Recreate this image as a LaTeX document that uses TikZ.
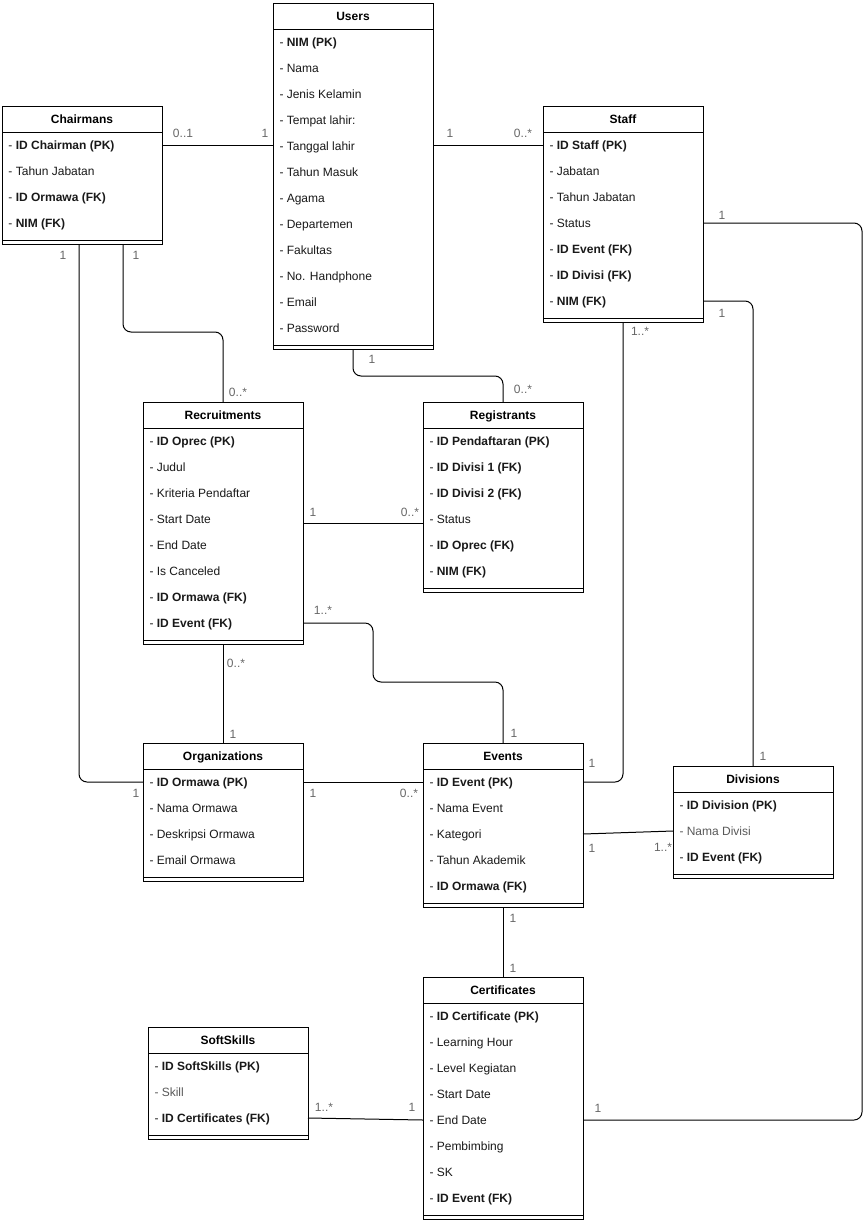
\documentclass[tikz,border=0pt]{standalone}
\usepackage{fontspec}
\setmainfont{Liberation Sans}
\usetikzlibrary{calc}

% one table of the diagram: name, x, y (from top), title, rows, attributes
\newcommand\erdtable[6]{%
  \node[tablebox, minimum height={34pt+26pt*#5}] (#1) at (#2,-#3) {};
  \node[tablehead] (#1-head) at ([yshift=-13pt]#1.north) {#4};
  \draw ([yshift=-26pt]#1.north west) -- ([yshift=-26pt]#1.north east);
  \draw ([yshift=4pt]#1.south west) -- ([yshift=4pt]#1.south east);
  \foreach \attr [count=\n] in {#6}
    \node[attrib] (#1-\n) at ([xshift=6pt, yshift=-13pt-26pt*\n]#1.north west) {\attr};
}

\begin{document}
\begin{tikzpicture}[x=1pt, y=1pt, line width=1pt, font=\fontsize{12}{14}\selectfont,
    tablebox/.style={draw, fill=white, minimum width=160pt, anchor=north west, inner sep=0pt, outer sep=0pt},
    tablehead/.style={font=\fontsize{12}{14}\selectfont\bfseries, inner sep=0pt, text height=8.6pt, text depth=0pt},
    attrib/.style={anchor=west, inner sep=0pt, text height=8.6pt, text depth=0pt, text=black!90},
    lbl/.style={inner sep=0pt, text height=8.6pt, text depth=0pt, text=black!60},
    link/.style={rounded corners=8pt}]
    \useasboundingbox (0,0) rectangle (866,-1221);

    \erdtable{users}{273}{3}{Users}{12}{- \textbf{NIM (PK)}, - Nama, - Jenis Kelamin, - Tempat lahir:, - Tanggal lahir, - Tahun Masuk, - Agama, - Departemen, - Fakultas, - No. Handphone, - Email, - Password}
    \erdtable{chair}{2}{106}{Chairmans}{4}{- \textbf{ID Chairman (PK)}, - Tahun Jabatan, - \textbf{ID Ormawa (FK)}, - \textbf{NIM (FK)}}
    \erdtable{staff}{543}{106}{Staff}{7}{- \textbf{ID Staff (PK)}, - Jabatan, - Tahun Jabatan, - Status, - \textbf{ID Event (FK)}, - \textbf{ID Divisi (FK)}, - \textbf{NIM (FK)}}
    \erdtable{recr}{143}{402}{Recruitments}{8}{- \textbf{ID Oprec (PK)}, - Judul, - Kriteria Pendaftar, - Start Date, - End Date, - Is Canceled, - \textbf{ID Ormawa (FK)}, - \textbf{ID Event (FK)}}
    \erdtable{regs}{423}{402}{Registrants}{6}{- \textbf{ID Pendaftaran (PK)}, - \textbf{ID Divisi 1 (FK)}, - \textbf{ID Divisi 2 (FK)}, - Status, - \textbf{ID Oprec (FK)}, - \textbf{NIM (FK)}}
    \erdtable{orgs}{143}{743}{Organizations}{4}{- \textbf{ID Ormawa (PK)}, - Nama Ormawa, - Deskripsi Ormawa, - Email Ormawa}
    \erdtable{events}{423}{743}{Events}{5}{- \textbf{ID Event (PK)}, - Nama Event, - Kategori, - Tahun Akademik, - \textbf{ID Ormawa (FK)}}
    \erdtable{divs}{673}{766}{Divisions}{3}{- \textbf{ID Division (PK)}, {\color{black!65}- Nama Divisi}, - \textbf{ID Event (FK)}}
    \erdtable{certs}{423}{977}{Certificates}{8}{- \textbf{ID Certificate (PK)}, - Learning Hour, - Level Kegiatan, - Start Date, - End Date, - Pembimbing, - SK, - \textbf{ID Event (FK)}}
    \erdtable{skills}{148}{1027}{SoftSkills}{3}{- \textbf{ID SoftSkills (PK)}, {\color{black!65}- Skill}, - \textbf{ID Certificates (FK)}}

    % relations
    \draw[link] (chair.east |- chair-1) -- (users.west |- chair-1);
    \node[lbl] (c1a) at (183,-133) {0..1};
    \node[lbl] (c1b) at (265,-133) {1};

    \draw[link] (users.east |- staff-1) -- (staff.west |- staff-1);
    \node[lbl] (c2a) at (450,-133) {1};
    \node[lbl] (c2b) at (523,-133) {0..*};

    \draw[link] ([xshift=-3pt]chair.south) |- (orgs.west |- orgs-1);
    \node[lbl] (c3a) at (63,-255) {1};
    \node[lbl] (c3b) at (136,-793) {1};

    \draw[link] ([xshift=41pt]chair.south) -- ++(0,-88) -| (recr.north);
    \node[lbl] (c4a) at (136,-255) {1};
    \node[lbl] (c4b) at (238,-392) {0..*};

    \draw[link] (users.south) -- ++(0,-27) -| (regs.north);
    \node[lbl] (c5a) at (372,-359) {1};
    \node[lbl] (c5b) at (523,-389) {0..*};

    \draw[link] (recr.east) -- (regs.west |- recr.east);
    \node[lbl] (c6a) at (313,-512) {1};
    \node[lbl] (c6b) at (410,-512) {0..*};

    \draw[link] (recr.east |- recr-8) -- ++(70,0) -- ++(0,-59) -| (events.north);
    \node[lbl] (c7a) at (323,-610) {1..*};
    \node[lbl] (c7b) at (514,-733) {1};

    \draw[link] (recr.south) -- (orgs.north);
    \node[lbl] (c8a) at (236,-663) {0..*};
    \node[lbl] (c8b) at (233,-734) {1};

    \draw[link] (orgs.east |- orgs-1) -- (events.west |- orgs-1);
    \node[lbl] (c9a) at (313,-793) {1};
    \node[lbl] (c9b) at (409,-793) {0..*};

    \draw[link] (staff.south) |- (events.east |- events-1);
    \node[lbl] (c10a) at (640,-331) {1..*};
    \node[lbl] (c10b) at (592,-763) {1};

    \draw[link] (staff.east |- staff-7) -| (divs.north);
    \node[lbl] (c11a) at (722,-313) {1};
    \node[lbl] (c11b) at (763,-756) {1};

    \coordinate (rim) at (862,0);
    \draw[link] (staff.east |- staff-4) -- (rim |- staff-4) -- (rim |- certs-5) -- (certs.east |- certs-5);
    \node[lbl] (c12a) at (722,-215) {1};
    \node[lbl] (c12b) at (598,-1108) {1};

    \draw[link] (events.east |- events-3) -- (divs.west |- divs-2);
    \node[lbl] (c13a) at (592,-848) {1};
    \node[lbl] (c13b) at (663,-847) {1..*};

    \draw[link] (events.south) -- (certs.north);
    \node[lbl] (c14a) at (513,-918) {1};
    \node[lbl] (c14b) at (513,-968) {1};

    \draw[link] (skills.east |- skills-3) -- (certs.west |- certs-5);
    \node[lbl] (c15a) at (324,-1107) {1..*};
    \node[lbl] (c15b) at (412,-1107) {1};
\end{tikzpicture}
\end{document}
